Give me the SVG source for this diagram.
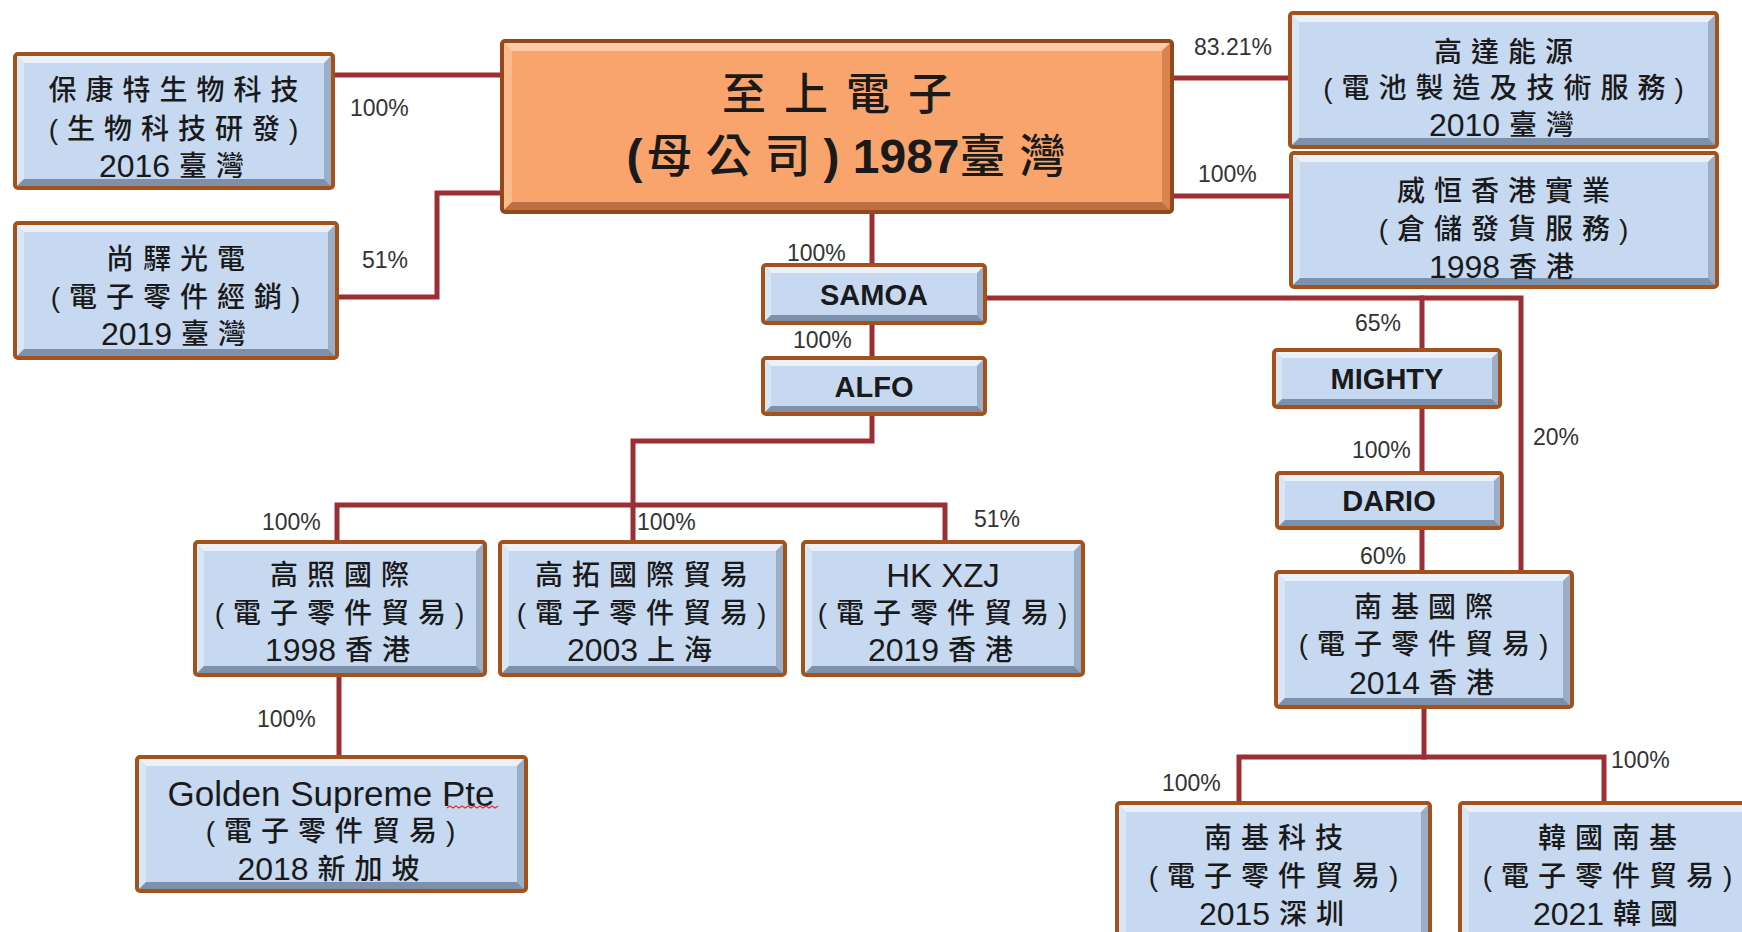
<svg xmlns="http://www.w3.org/2000/svg" width="1742" height="932" viewBox="0 0 1742 932">
<style>
.face{fill:#c6d9f1}
.bt{fill:#eaf1fb}
.bl{fill:#d9e6f6}
.br{fill:#9aaec8}
.bb{fill:#7e91ac}
.edge{fill:none;stroke:#a3521c;stroke-width:4}
.oface{fill:#f9a46d}
.obt{fill:#fdcaa6}
.obl{fill:#fbb98c}
.obr{fill:#d8844f}
.obb{fill:#bd6e42}
.oedge{fill:none;stroke:#94471a;stroke-width:4}
.cn{fill:none;stroke:#9b2f35;stroke-width:5;stroke-linejoin:miter;stroke-linecap:square}
.lbl{font-family:"Liberation Sans",Arial,sans-serif;font-size:23px;fill:#333}
.t{font-family:"Liberation Sans","Noto Sans CJK TC",sans-serif;fill:#1a1a1a;text-anchor:middle;dominant-baseline:central}
.cj{font-size:28px;letter-spacing:9px;font-weight:500}
.num{font-size:32px;letter-spacing:0;font-weight:400}
.lat{font-size:32px}
.bold{font-weight:bold}
.sm{font-size:29px;font-weight:bold}
</style>
<rect width="1742" height="932" fill="#ffffff"/>

<g id="connectors">
<path class="cn" d="M333,75 H502"/>
<path class="cn" d="M337,297 H437 V193 H502"/>
<path class="cn" d="M1172,78 H1290"/>
<path class="cn" d="M1172,196 H1291"/>
<path class="cn" d="M872,212 V265"/>
<path class="cn" d="M872,323 V358"/>
<path class="cn" d="M872,414 V441 H633 V542"/>
<path class="cn" d="M337,542 V505 H945 V542"/>
<path class="cn" d="M339,675 V757"/>
<path class="cn" d="M985,298 H1521 V572"/>
<path class="cn" d="M1422,298 V350"/>
<path class="cn" d="M1422,407 V473"/>
<path class="cn" d="M1422,528 V572"/>
<path class="cn" d="M1424,707 V757"/>
<path class="cn" d="M1239,803 V757 H1604 V803"/>
</g>

<g id="labels">
<text class="lbl" x="350" y="116">100%</text>
<text class="lbl" x="362" y="268">51%</text>
<text class="lbl" x="1194" y="55">83.21%</text>
<text class="lbl" x="1198" y="182">100%</text>
<text class="lbl" x="787" y="261">100%</text>
<text class="lbl" x="793" y="348">100%</text>
<text class="lbl" x="1355" y="331">65%</text>
<text class="lbl" x="1352" y="458">100%</text>
<text class="lbl" x="1360" y="564">60%</text>
<text class="lbl" x="1533" y="445">20%</text>
<text class="lbl" x="262" y="530">100%</text>
<text class="lbl" x="637" y="530">100%</text>
<text class="lbl" x="974" y="527">51%</text>
<text class="lbl" x="257" y="727">100%</text>
<text class="lbl" x="1162" y="791">100%</text>
<text class="lbl" x="1611" y="768">100%</text>
</g>

<g id="node-baokangte">
<rect class="face" x="15" y="54" width="318" height="134"/>
<polygon class="bt" points="15,54 333,54 324,63 24,63"/>
<polygon class="bl" points="15,54 24,63 24,179 15,188"/>
<polygon class="br" points="333,54 333,188 324,179 324,63"/>
<polygon class="bb" points="15,188 24,179 324,179 333,188"/>
<rect class="edge" x="15" y="54" width="318" height="134" rx="3"/>
<text class="t cj" x="178" y="90">保康特生物科技</text>
<text class="t cj" x="178" y="129">(生物科技研發)</text>
<text class="t" x="176" y="166"><tspan class="num">2016  </tspan><tspan class="cj">臺灣</tspan></text>
</g>

<g id="node-shangyi">
<rect class="face" x="15" y="223" width="322" height="135"/>
<polygon class="bt" points="15,223 337,223 328,232 24,232"/>
<polygon class="bl" points="15,223 24,232 24,349 15,358"/>
<polygon class="br" points="337,223 337,358 328,349 328,232"/>
<polygon class="bb" points="15,358 24,349 328,349 337,358"/>
<rect class="edge" x="15" y="223" width="322" height="135" rx="3"/>
<text class="t cj" x="180" y="259">尚驛光電</text>
<text class="t cj" x="180" y="297">(電子零件經銷)</text>
<text class="t" x="178" y="334"><tspan class="num">2019  </tspan><tspan class="cj">臺灣</tspan></text>
</g>

<g id="node-parent">
<rect class="oface" x="502" y="41" width="670" height="171"/>
<polygon class="obt" points="502,41 1172,41 1162,51 512,51"/>
<polygon class="obl" points="502,41 512,51 512,202 502,212"/>
<polygon class="obr" points="1172,41 1172,212 1162,202 1162,51"/>
<polygon class="obb" points="502,212 512,202 1162,202 1172,212"/>
<rect class="oedge" x="502" y="41" width="670" height="171" rx="3"/>
<text class="t" x="846" y="94" style="font-size:44px;letter-spacing:18px;font-weight:500">至上電子</text>
<text class="t" x="853" y="156"><tspan class="bold" style="font-size:48px;letter-spacing:4px">(</tspan><tspan style="font-size:46px;letter-spacing:13px;font-weight:500">母公司</tspan><tspan class="bold" style="font-size:48px">) 1987</tspan><tspan style="font-size:46px;letter-spacing:14px;font-weight:500">臺灣</tspan></text>
</g>

<g id="node-gaoda">
<rect class="face" x="1290" y="13" width="427" height="134"/>
<polygon class="bt" points="1290,13 1717,13 1708,22 1299,22"/>
<polygon class="bl" points="1290,13 1299,22 1299,138 1290,147"/>
<polygon class="br" points="1717,13 1717,147 1708,138 1708,22"/>
<polygon class="bb" points="1290,147 1299,138 1708,138 1717,147"/>
<rect class="edge" x="1290" y="13" width="427" height="134" rx="3"/>
<text class="t cj" x="1508" y="52">高達能源</text>
<text class="t cj" x="1508" y="88">(電池製造及技術服務)</text>
<text class="t" x="1506" y="125"><tspan class="num">2010  </tspan><tspan class="cj">臺灣</tspan></text>
</g>

<g id="node-weiheng">
<rect class="face" x="1291" y="153" width="426" height="134"/>
<polygon class="bt" points="1291,153 1717,153 1708,162 1300,162"/>
<polygon class="bl" points="1291,153 1300,162 1300,278 1291,287"/>
<polygon class="br" points="1717,153 1717,287 1708,278 1708,162"/>
<polygon class="bb" points="1291,287 1300,278 1708,278 1717,287"/>
<rect class="edge" x="1291" y="153" width="426" height="134" rx="3"/>
<text class="t cj" x="1508" y="191">威恒香港實業</text>
<text class="t cj" x="1508" y="229">(倉儲發貨服務)</text>
<text class="t" x="1506" y="267"><tspan class="num">1998  </tspan><tspan class="cj">香港</tspan></text>
</g>

<g id="node-samoa">
<rect class="face" x="763" y="265" width="222" height="58"/>
<polygon class="bt" points="763,265 985,265 977,273 771,273"/>
<polygon class="bl" points="763,265 771,273 771,315 763,323"/>
<polygon class="br" points="985,265 985,323 977,315 977,273"/>
<polygon class="bb" points="763,323 771,315 977,315 985,323"/>
<rect class="edge" x="763" y="265" width="222" height="58" rx="3"/>
<text class="t sm" x="874" y="295">SAMOA</text>
</g>

<g id="node-alfo">
<rect class="face" x="763" y="358" width="222" height="56"/>
<polygon class="bt" points="763,358 985,358 977,366 771,366"/>
<polygon class="bl" points="763,358 771,366 771,406 763,414"/>
<polygon class="br" points="985,358 985,414 977,406 977,366"/>
<polygon class="bb" points="763,414 771,406 977,406 985,414"/>
<rect class="edge" x="763" y="358" width="222" height="56" rx="3"/>
<text class="t sm" x="874" y="387">ALFO</text>
</g>

<g id="node-mighty">
<rect class="face" x="1274" y="350" width="226" height="57"/>
<polygon class="bt" points="1274,350 1500,350 1492,358 1282,358"/>
<polygon class="bl" points="1274,350 1282,358 1282,399 1274,407"/>
<polygon class="br" points="1500,350 1500,407 1492,399 1492,358"/>
<polygon class="bb" points="1274,407 1282,399 1492,399 1500,407"/>
<rect class="edge" x="1274" y="350" width="226" height="57" rx="3"/>
<text class="t sm" x="1387" y="379">MIGHTY</text>
</g>

<g id="node-dario">
<rect class="face" x="1277" y="473" width="225" height="55"/>
<polygon class="bt" points="1277,473 1502,473 1494,481 1285,481"/>
<polygon class="bl" points="1277,473 1285,481 1285,520 1277,528"/>
<polygon class="br" points="1502,473 1502,528 1494,520 1494,481"/>
<polygon class="bb" points="1277,528 1285,520 1494,520 1502,528"/>
<rect class="edge" x="1277" y="473" width="225" height="55" rx="3"/>
<text class="t sm" x="1389" y="501">DARIO</text>
</g>

<g id="node-nanji">
<rect class="face" x="1276" y="572" width="296" height="135"/>
<polygon class="bt" points="1276,572 1572,572 1563,581 1285,581"/>
<polygon class="bl" points="1276,572 1285,581 1285,698 1276,707"/>
<polygon class="br" points="1572,572 1572,707 1563,698 1563,581"/>
<polygon class="bb" points="1276,707 1285,698 1563,698 1572,707"/>
<rect class="edge" x="1276" y="572" width="296" height="135" rx="3"/>
<text class="t cj" x="1428" y="607">南基國際</text>
<text class="t cj" x="1428" y="644">(電子零件貿易)</text>
<text class="t" x="1426" y="683"><tspan class="num">2014  </tspan><tspan class="cj">香港</tspan></text>
</g>

<g id="node-gaozhao">
<rect class="face" x="195" y="542" width="290" height="133"/>
<polygon class="bt" points="195,542 485,542 476,551 204,551"/>
<polygon class="bl" points="195,542 204,551 204,666 195,675"/>
<polygon class="br" points="485,542 485,675 476,666 476,551"/>
<polygon class="bb" points="195,675 204,666 476,666 485,675"/>
<rect class="edge" x="195" y="542" width="290" height="133" rx="3"/>
<text class="t cj" x="344" y="575">高照國際</text>
<text class="t cj" x="344" y="613">(電子零件貿易)</text>
<text class="t" x="342" y="650"><tspan class="num">1998  </tspan><tspan class="cj">香港</tspan></text>
</g>

<g id="node-gaotuo">
<rect class="face" x="500" y="542" width="285" height="133"/>
<polygon class="bt" points="500,542 785,542 776,551 509,551"/>
<polygon class="bl" points="500,542 509,551 509,666 500,675"/>
<polygon class="br" points="785,542 785,675 776,666 776,551"/>
<polygon class="bb" points="500,675 509,666 776,666 785,675"/>
<rect class="edge" x="500" y="542" width="285" height="133" rx="3"/>
<text class="t cj" x="646" y="575">高拓國際貿易</text>
<text class="t cj" x="646" y="613">(電子零件貿易)</text>
<text class="t" x="644" y="650"><tspan class="num">2003  </tspan><tspan class="cj">上海</tspan></text>
</g>

<g id="node-hkxzj">
<rect class="face" x="803" y="542" width="280" height="133"/>
<polygon class="bt" points="803,542 1083,542 1074,551 812,551"/>
<polygon class="bl" points="803,542 812,551 812,666 803,675"/>
<polygon class="br" points="1083,542 1083,675 1074,666 1074,551"/>
<polygon class="bb" points="803,675 812,666 1074,666 1083,675"/>
<rect class="edge" x="803" y="542" width="280" height="133" rx="3"/>
<text class="t lat" x="943" y="575" style="font-size:33px">HK XZJ</text>
<text class="t cj" x="947" y="613">(電子零件貿易)</text>
<text class="t" x="945" y="650"><tspan class="num">2019  </tspan><tspan class="cj">香港</tspan></text>
</g>

<g id="node-golden">
<rect class="face" x="137" y="757" width="389" height="134"/>
<polygon class="bt" points="137,757 526,757 517,766 146,766"/>
<polygon class="bl" points="137,757 146,766 146,882 137,891"/>
<polygon class="br" points="526,757 526,891 517,882 517,766"/>
<polygon class="bb" points="137,891 146,882 517,882 526,891"/>
<rect class="edge" x="137" y="757" width="389" height="134" rx="3"/>
<text class="t" x="331" y="793" style="font-size:35px">Golden Supreme Pte</text>
<path d="M447,808 l3,-2 l3,2 l3,-2 l3,2 l3,-2 l3,2 l3,-2 l3,2 l3,-2 l3,2 l3,-2 l3,2 l3,-2 l3,2 l3,-2 l3,2 l3,-2" fill="none" stroke="#e03030" stroke-width="1.2"/>
<text class="t cj" x="335" y="831">(電子零件貿易)</text>
<text class="t" x="333" y="869"><tspan class="num">2018  </tspan><tspan class="cj">新加坡</tspan></text>
</g>

<g id="node-nanjikeji">
<rect class="face" x="1117" y="803" width="313" height="142"/>
<polygon class="bt" points="1117,803 1430,803 1421,812 1126,812"/>
<polygon class="bl" points="1117,803 1126,812 1126,936 1117,945"/>
<polygon class="br" points="1430,803 1430,945 1421,936 1421,812"/>
<polygon class="bb" points="1117,945 1126,936 1421,936 1430,945"/>
<rect class="edge" x="1117" y="803" width="313" height="142" rx="3"/>
<text class="t cj" x="1278" y="838">南基科技</text>
<text class="t cj" x="1278" y="876">(電子零件貿易)</text>
<text class="t" x="1276" y="914"><tspan class="num">2015  </tspan><tspan class="cj">深圳</tspan></text>
</g>

<g id="node-hanguonanji">
<rect class="face" x="1460" y="803" width="296" height="142"/>
<polygon class="bt" points="1460,803 1756,803 1747,812 1469,812"/>
<polygon class="bl" points="1460,803 1469,812 1469,936 1460,945"/>
<polygon class="br" points="1756,803 1756,945 1747,936 1747,812"/>
<polygon class="bb" points="1460,945 1469,936 1747,936 1756,945"/>
<rect class="edge" x="1460" y="803" width="296" height="142" rx="3"/>
<text class="t cj" x="1612" y="838">韓國南基</text>
<text class="t cj" x="1612" y="876">(電子零件貿易)</text>
<text class="t" x="1610" y="914"><tspan class="num">2021  </tspan><tspan class="cj">韓國</tspan></text>
</g>
</svg>
